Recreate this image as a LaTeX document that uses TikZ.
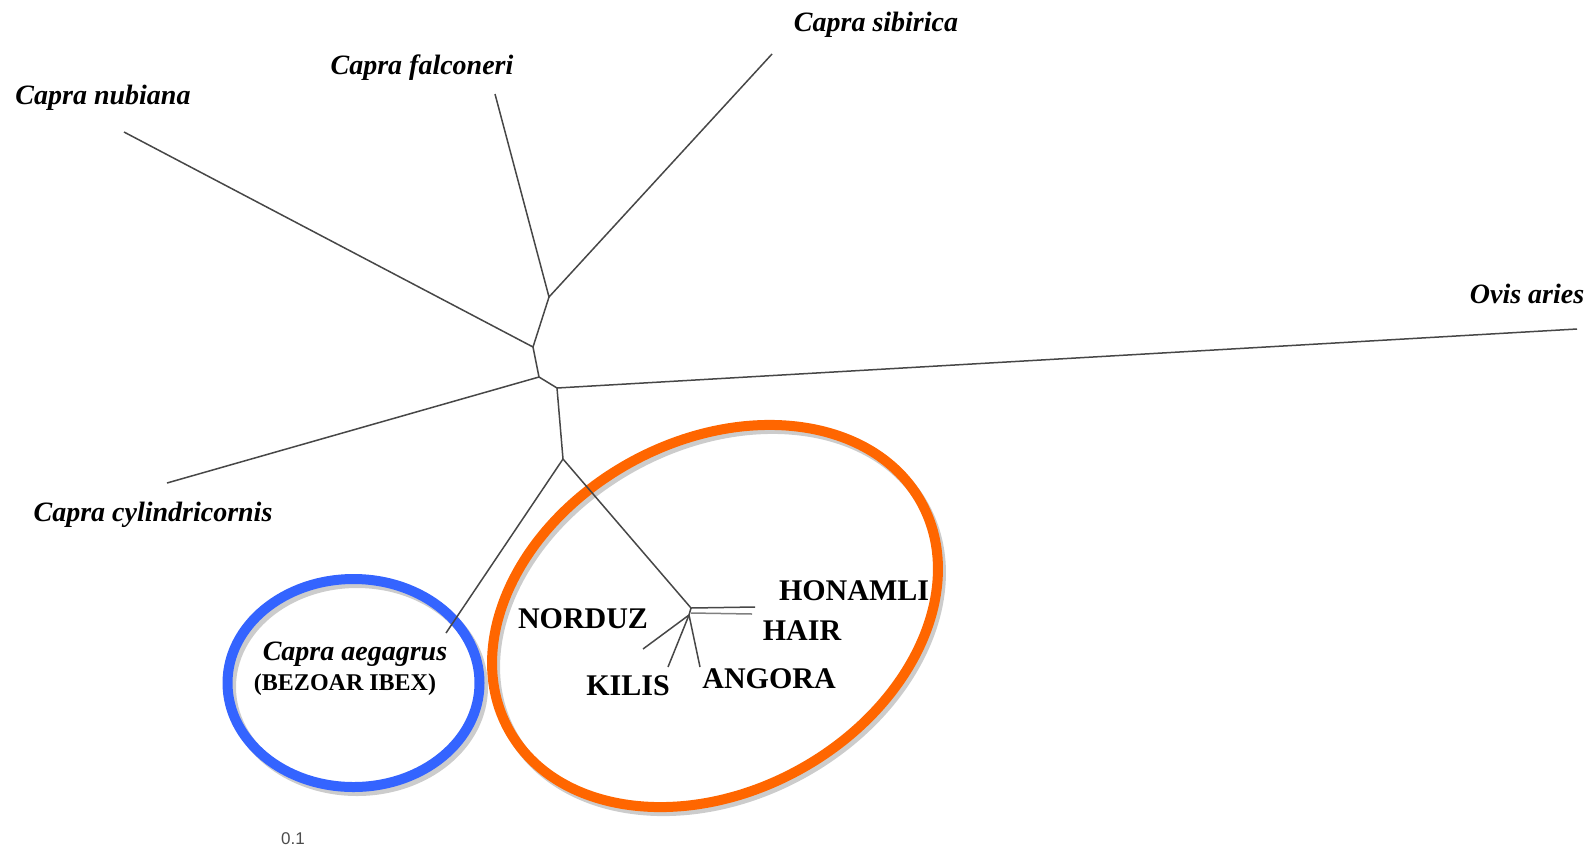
\documentclass[tikz,border=0pt]{standalone}
\usepackage{fontspec}
\setmainfont{Liberation Serif}
\newfontfamily\labsans{Liberation Sans}
\definecolor{ringblue}{RGB}{52,100,255}
\definecolor{ringorange}{RGB}{255,102,0}
\begin{document}
\begin{tikzpicture}[x=1pt,y=-1pt,
  branch/.style={draw=black!72,line width=1.5pt},
  sp/.style={font=\fontsize{28}{31}\selectfont\bfseries\itshape,inner sep=0pt},
  breed/.style={font=\fontsize{30}{33}\selectfont\bfseries,inner sep=0pt},
  ring/.style={line width=10pt},
  shadowring/.style={line width=10pt,draw=black!20}]
\useasboundingbox (0,0) rectangle (1589,852);
% ellipses
\draw[shadowring] (357,687) ellipse [x radius=126, y radius=104];
\draw[ring,draw=ringblue] (353.5,683) ellipse [x radius=126, y radius=104];
\draw[shadowring,rotate around={28.9:(718,620)}] (718,620) ellipse [x radius=235.5, y radius=175.3];
\draw[ring,draw=ringorange,rotate around={28.9:(715,616)}] (715,616) ellipse [x radius=235.5, y radius=175.3];
% tree coordinates
\coordinate (A) at (549,297);
\coordinate (B) at (533,347);
\coordinate (C) at (539,377);
\coordinate (D) at (557,388);
\coordinate (E) at (563,459);
\coordinate (F) at (691,608);
\coordinate (F2) at (689,615);
\coordinate (lfal) at (495,94);
\coordinate (lsib) at (772,54);
\coordinate (lnub) at (124,132);
\coordinate (lcyl) at (167,483);
\coordinate (lovi) at (1577,329);
\coordinate (laeg) at (446,633);
\coordinate (lhon) at (755,607);
\coordinate (lhai1) at (691,613);
\coordinate (lhai) at (752,614);
\coordinate (lnor) at (643,649);
\coordinate (lkil) at (668,667);
\coordinate (lang) at (700,667);
\draw[branch] (lfal) -- (A) -- (lsib);
\draw[branch] (A) -- (B) -- (lnub);
\draw[branch] (B) -- (C) -- (lcyl);
\draw[branch] (C) -- (D) -- (lovi);
\draw[branch] (D) -- (E) -- (laeg);
\draw[branch] (E) -- (F) -- (lhon);
\draw[branch,draw=black!50] (lhai1) -- (lhai);
\draw[branch] (F) -- (F2);
\draw[branch] (F2) -- (lnor);
\draw[branch] (F2) -- (lkil);
\draw[branch] (F2) -- (lang);
% labels
\node[sp] (tsib) at (876,25) {Capra sibirica};
\node[sp] (tfal) at (422,68) {Capra falconeri};
\node[sp] (tnub) at (103,98) {Capra nubiana};
\node[sp] (tovi) at (1527,294) {Ovis aries};
\node[sp] (tcyl) at (153,515) {Capra cylindricornis};
\node[sp] (taeg) at (355,654) {Capra aegagrus};
\node[font=\fontsize{24}{26}\selectfont\bfseries,inner sep=0pt] (tbez) at (345,685) {(BEZOAR IBEX)};
\node[breed] (tnor) at (583,619) {NORDUZ};
\node[breed] (thon) at (854,591) {HONAMLI};
\node[breed] (thai) at (802,631) {HAIR};
\node[breed] (tkil) at (628,686) {KILIS};
\node[breed] (tang) at (769,679) {ANGORA};
\node[font=\labsans\fontsize{17}{19}\selectfont,text=black!70,inner sep=0pt] (scale) at (293,839) {0.1};
\end{tikzpicture}
\end{document}
